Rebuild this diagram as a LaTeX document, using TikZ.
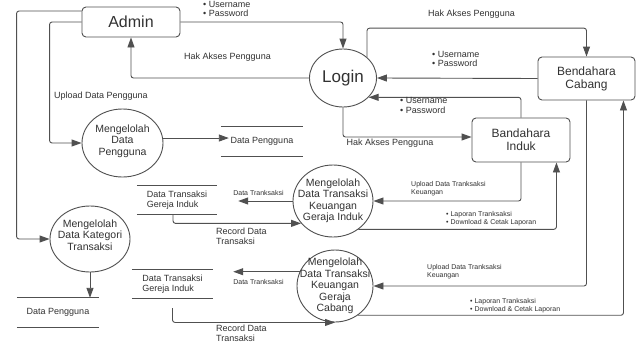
\documentclass[tikz,border=0pt]{standalone}
\usepackage{fontspec}
\setmainfont{Liberation Sans}
\usepackage{tikz}
\usetikzlibrary{arrows.meta,shapes.geometric}
\definecolor{linec}{RGB}{80,80,80}
\definecolor{txtc}{RGB}{50,50,50}

\begin{document}
\begin{tikzpicture}[>={Triangle[length=10pt,width=7pt]}, x=1pt, y=-1pt,
	box/.style={draw=linec, line width=0.9pt, rounded corners=4pt, inner sep=0pt, align=center, text=txtc, font=\fontsize{12}{13}\selectfont},
	proc/.style={ellipse, draw=linec, line width=0.9pt, inner sep=0pt},
	ptext/.style={align=center, text=txtc, font=\fontsize{10.5}{11.5}\selectfont, inner sep=0pt},
	store/.style={inner sep=0pt, align=left, text=txtc, font=\fontsize{9}{9.5}\selectfont},
	lbl/.style={inner sep=0pt, align=left, text=txtc, font=\fontsize{9}{9.7}\selectfont},
	lblsmall/.style={inner sep=0pt, align=left, text=txtc, font=\fontsize{7}{8}\selectfont},
	flow/.style={draw=linec, line width=0.9pt, rounded corners=2.5pt, ->}]
		%\draw [help lines] (0,0) grid (639,343);
		\path[fill=white, use as bounding box] (0,0) rectangle (639,343);
		\node[box, minimum width=98pt, minimum height=30pt, font=\fontsize{16}{17}\selectfont] (admin) at (131,22) {Admin};
		\node[proc, minimum width=67pt, minimum height=58pt, text=txtc, font=\fontsize{17}{18}\selectfont] (login) at (343,78) {Login};
		\node[box, minimum width=97pt, minimum height=43pt] (cabang) at (586.5,78.5) {Bendahara\\Cabang};
		\node[box, minimum width=98pt, minimum height=44pt] (induk) at (521,140) {Bandahara\\Induk};
		\node[proc, minimum width=81pt, minimum height=68pt, label={[ptext, yshift=2pt]center:{Mengelolah\\Data\\Pengguna}}] (pengguna) at (122.5,143) {};
		\node[proc, minimum width=80pt, minimum height=72pt, label={[ptext]center:{Mengelolah\\Data Transaksi\\Keuangan\\Geraja Induk}}] (keuind) at (333,201) {};
		\node[proc, minimum width=80pt, minimum height=66pt, label={[ptext, yshift=4pt]center:{Mengelolah\\Data Kategori\\Transaksi}}] (kategori) at (90,239) {};
		\node[proc, minimum width=76pt, minimum height=72pt, label={[ptext]center:{Mengelolah\\Data Transaksi\\Keuangan\\Geraja\\Cabang}}] (keucab) at (335,286) {};
		\node[store, minimum width=82pt, minimum height=29pt] (dp1) at (262,141.5) {Data Pengguna};
		\node[store, minimum width=80pt, minimum height=28pt] (dti1) at (177,200) {Data Transaksi\\Gereja Induk};
		\node[store, minimum width=82pt, minimum height=29pt] (dp2) at (58,312.5) {Data Pengguna};
		\node[store, minimum width=81pt, minimum height=28pt] (dti2) at (172.5,284) {Data Transaksi\\Gereja Induk};
		\foreach \s in {dp1,dti1,dp2,dti2}
			\draw[linec, line width=0.9pt] (\s.north west) -- (\s.north east) (\s.south west) -- (\s.south east);
		% admin dan login
		\draw[flow] ([yshift=11pt]admin.west) -- ++(-65,0) |- (kategori.west);
		\draw[flow] (admin.west) -- ++(-32,0) |- (pengguna.west);
		\draw[flow] (admin.east) -| (login.north);
		\draw[flow] (login.west) -| (admin.south);
		\draw[flow] (login.north east) -- ++(0,-29) -| (cabang.north);
		\draw[flow] (cabang.west) -- (login.east);
		\draw[flow] (induk.north) |- (login.-37);
		\draw[flow] (login.south) |- ([yshift=3pt]induk.west);
		% proses
		\draw[flow] (pengguna.7) -- ([xshift=8pt]pengguna.7 -| dp1.west);
		\draw[flow] (keuind.west) -- ([xshift=21pt]keuind.west -| dti1.east);
		\draw[flow] ([xshift=-4pt]dti1.south) |- (keuind.-145);
		\draw[flow] (induk.south) |- (keuind.east);
		\draw[flow] (keuind.-48) -| ([xshift=-14pt]induk.south east);
		\draw[flow] (kategori.south) -- (kategori.south |- dp2.north);
		\draw[flow] (keucab.158) -- ([xshift=20pt]keucab.158 -| dti2.east);
		\draw[flow] ([yshift=-10pt]dti2.south) |- (keucab.south);
		\draw[flow] (cabang.south) |- (keucab.east);
		\draw[flow] (keucab.-52) -| ([xshift=-12pt]cabang.south east);
		% label
		\node[lbl, anchor=west] (up1) at (203,8.8) {• Username\\• Password};
		\node[lbl] (hak1) at (227.5,57) {Hak Akses Pengguna};
		\node[lbl, anchor=west] (upl) at (54,96) {Upload Data Pengguna};
		\node[lbl] (hak2) at (471.5,14) {Hak Akses Pengguna};
		\node[lbl, anchor=west] (up2) at (432,59) {• Username\\• Password};
		\node[lbl, anchor=west] (up3) at (400,105.5) {• Username\\• Password};
		\node[lbl] (hak3) at (390,143) {Hak Akses Pengguna};
		\node[lblsmall] (dt1) at (258.5,193) {Data Tranksaksi};
		\node[lbl, anchor=west] (rec1) at (216,236.5) {Record Data\\Transaksi};
		\node[lblsmall] (dt2) at (258.5,282) {Data Tranksaksi};
		\node[lbl, anchor=west] (rec2) at (216,333.5) {Record Data\\Transaksi};
		\node[lblsmall, anchor=west] (upk1) at (411,189) {Upload Data Tranksaksi\\Keuangan};
		\node[lblsmall, anchor=west] (lap1) at (446,219) {• Laporan Tranksaksi\\• Download \& Cetak Laporan};
		\node[lblsmall, anchor=west] (upk2) at (427,272) {Upload Data Tranksaksi\\Keuangan};
		\node[lblsmall, anchor=west] (lap2) at (470,305.5) {• Laporan Tranksaksi\\• Download \& Cetak Laporan};
	\end{tikzpicture}
\end{document}
